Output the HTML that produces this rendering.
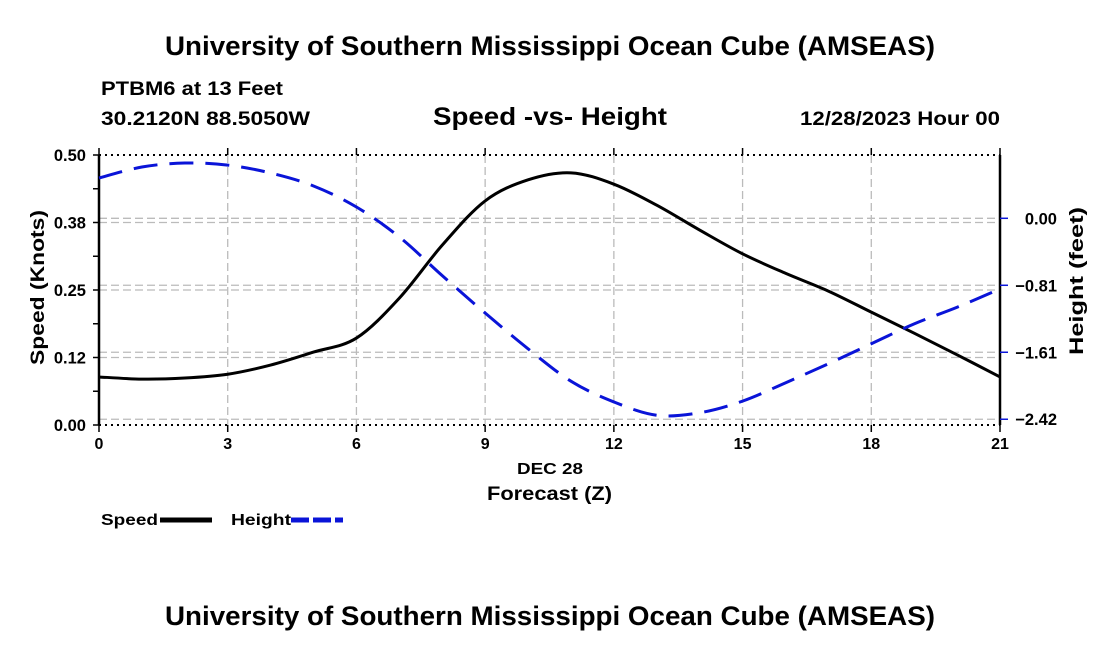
<!DOCTYPE html>
<html><head><meta charset="utf-8"><style>
body{margin:0;background:#fff;}
svg text{font-family:"Liberation Sans",sans-serif;font-weight:bold;fill:#000;}
</style></head><body>
<svg width="1100" height="650">
<text x="165" y="55" font-size="27" textLength="770" lengthAdjust="spacingAndGlyphs">University of Southern Mississippi Ocean Cube (AMSEAS)</text>
<text x="101" y="95" font-size="19" textLength="182" lengthAdjust="spacingAndGlyphs">PTBM6 at 13 Feet</text>
<text x="101" y="125" font-size="19" textLength="209" lengthAdjust="spacingAndGlyphs">30.2120N  88.5050W</text>
<text x="433" y="125" font-size="25" textLength="234" lengthAdjust="spacingAndGlyphs">Speed -vs- Height</text>
<text x="800" y="125" font-size="19" textLength="200" lengthAdjust="spacingAndGlyphs">12/28/2023 Hour 00</text>
<g id="grid"></g>
<g id="axes"></g>
<g id="series"></g>
<text x="517" y="474" font-size="16" textLength="66" lengthAdjust="spacingAndGlyphs">DEC 28</text>
<text x="487" y="500" font-size="19" textLength="125" lengthAdjust="spacingAndGlyphs">Forecast (Z)</text>
<text transform="translate(44,365) rotate(-90)" font-size="19" textLength="155" lengthAdjust="spacingAndGlyphs">Speed (Knots)</text>
<text transform="translate(1083,355) rotate(-90)" font-size="19" textLength="148" lengthAdjust="spacingAndGlyphs">Height (feet)</text>
<g>
<text x="101" y="525" font-size="16" textLength="57" lengthAdjust="spacingAndGlyphs">Speed</text>
<line x1="160" y1="520" x2="212" y2="520" stroke="#000" stroke-width="5"/>
<text x="231" y="525" font-size="16" textLength="60" lengthAdjust="spacingAndGlyphs">Height</text>
<line x1="291" y1="520" x2="343" y2="520" stroke="#0a14d8" stroke-width="5" stroke-dasharray="18,4"/>
</g>
<text x="165" y="625" font-size="27" textLength="770" lengthAdjust="spacingAndGlyphs">University of Southern Mississippi Ocean Cube (AMSEAS)</text>
</svg>
<script>
const hours=[0,1,2,3,4,5,6,7,8,9,10,11,12,13,14,15,16,17,18,19,20,21];
const speed=[0.089,0.085,0.087,0.094,0.111,0.135,0.161,0.235,0.333,0.415,0.454,0.467,0.446,0.407,0.361,0.317,0.281,0.248,0.209,0.170,0.130,0.089];
const height=[0.485,0.617,0.665,0.64,0.545,0.389,0.136,-0.225,-0.69,-1.14,-1.57,-1.96,-2.21,-2.37,-2.34,-2.20,-1.98,-1.75,-1.51,-1.27,-1.07,-0.85];
const xTicks=[0,3,6,9,12,15,18,21];
const leftTicks=[0,0.125,0.25,0.375,0.5];
const leftLabels=["0.00","0.12","0.25","0.38","0.50"];
const rightTicks=[0,-0.806,-1.612,-2.418];
const rightLabels=["0.00","\u22120.81","\u22121.61","\u22122.42"];
const X0=99,X1=1000,Y0=425,Y1=155;
const xs=h=>X0+(X1-X0)*h/21;
const ys=s=>Y0-(Y0-Y1)*s/0.5;
const yh=f=>218.3-f*83.1;
const NS="http://www.w3.org/2000/svg";
function mk(tag,attrs,parent){const e=document.createElementNS(NS,tag);for(const k in attrs)e.setAttribute(k,attrs[k]);document.getElementById(parent).appendChild(e);return e;}
xTicks.slice(1,-1).forEach(h=>{const l=mk('line',{x1:xs(h),x2:xs(h),y1:Y1,y2:Y0,stroke:'#bbb','stroke-width':1.3,'stroke-dasharray':'8,4'},'grid');

});
leftTicks.slice(1,-1).forEach(v=>{const l=mk('line',{x1:X0,x2:X1,y1:ys(v),y2:ys(v),stroke:'#bbb','stroke-width':1.3,'stroke-dasharray':'8,4'},'grid');

});
rightTicks.forEach(v=>{const l=mk('line',{x1:X0,x2:X1,y1:yh(v),y2:yh(v),stroke:'#bbb','stroke-width':1.3,'stroke-dasharray':'8,4'},'grid');

});
[[X0,Y0,X0,Y1],[X1,Y0,X1,Y1]].forEach(a=>{const l=mk('line',{x1:a[0],y1:a[1],x2:a[2],y2:a[3],stroke:'#000','stroke-width':2.5},'axes');

});
[Y0,Y1].forEach(y=>{const l=mk('line',{x1:X0,y1:y,x2:X1,y2:y,stroke:'#000','stroke-width':2,'stroke-dasharray':'2,4'},'axes');

});
xTicks.forEach(h=>{const l=mk('line',{x1:xs(h),x2:xs(h),y1:Y0,y2:Y0+7,stroke:'#000','stroke-width':1.5},'axes');


const l2=mk('line',{x1:xs(h),x2:xs(h),y1:Y1,y2:Y1-7,stroke:'#000','stroke-width':1.5},'axes');


const t=mk('text',{x:xs(h),y:Y0+24,'font-size':16,'text-anchor':'middle'},'axes');t.textContent=h;

});
for(let v=0;v<=0.5001;v+=0.0625){const l=mk('line',{x1:X0-6,x2:X0,y1:ys(v),y2:ys(v),stroke:'#000','stroke-width':1.5},'axes');

}
leftTicks.forEach((v,i)=>{const t=mk('text',{x:X0-13,y:ys(v)+6,'font-size':16.5,'text-anchor':'end'},'axes');t.textContent=leftLabels[i];

});
rightTicks.forEach((v,i)=>{const l=mk('line',{x1:X1,x2:X1+8,y1:yh(v),y2:yh(v),stroke:'#0a14d8','stroke-width':1.5},'axes');


const t=mk('text',{x:1057,y:yh(v)+6,'font-size':16.5,'text-anchor':'end'},'axes');t.textContent=rightLabels[i];

});
function smooth(pts){let d='M'+pts[0][0]+','+pts[0][1];for(let i=0;i<pts.length-1;i++){const p0=pts[i-1]||pts[i],p1=pts[i],p2=pts[i+1],p3=pts[i+2]||p2;
d+=' C'+(p1[0]+(p2[0]-p0[0])/6)+','+(p1[1]+(p2[1]-p0[1])/6)+' '+(p2[0]-(p3[0]-p1[0])/6)+','+(p2[1]-(p3[1]-p1[1])/6)+' '+p2[0]+','+p2[1];}return d;}
const sp=mk('path',{d:smooth(hours.map((h,i)=>[xs(h),ys(speed[i])])),fill:'none',stroke:'#000','stroke-width':3},'series');


const hp=mk('path',{d:smooth(hours.map((h,i)=>[xs(h),yh(height[i])])),fill:'none',stroke:'#0a14d8','stroke-width':3,'stroke-dasharray':'24,12'},'series');


</script>
</body></html>
